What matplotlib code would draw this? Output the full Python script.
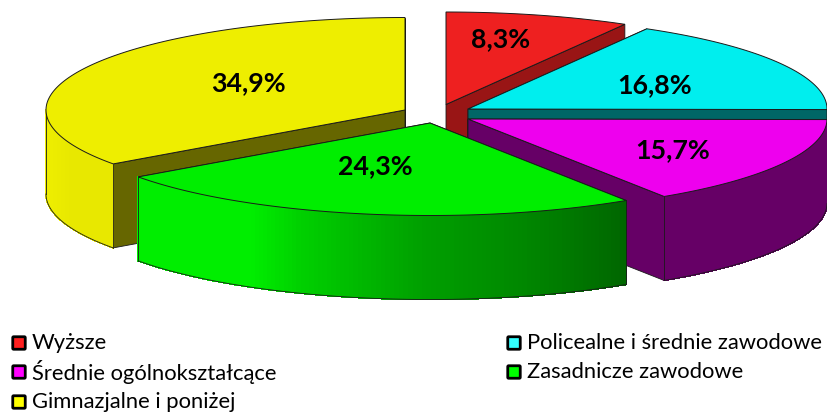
import numpy as np
import matplotlib
matplotlib.use("Agg")
import matplotlib.pyplot as plt
from matplotlib.collections import PolyCollection
from matplotlib.patches import FancyBboxPatch

categories = ["Wyższe", "Policealne i średnie zawodowe", "Średnie ogólnokształcące",
              "Zasadnicze zawodowe", "Gimnazjalne i poniżej"]
shares = [8.3, 16.8, 15.7, 24.3, 34.9]

# look of the fake 3d pie, in pixels of the picture
RX, RY, DEPTH = 359, 92.5, 84
apex = [(446, 105.5), (468, 110), (468, 120), (430, 124), (405, 111)]
top_col = ["#EE2020", "#00EEEE", "#EE00EE", "#00EE00", "#EEEE00"]
wall_col = ["#991515", "#006666", "#660066", "#006600", "#666600"]
key_col = ["#FF2020", "#33FFFF", "#FF00FF", "#00FF00", "#FFFF00"]
label_pos = [(501, 39), (655, 85), (673, 150), (375, 166), (248, 83)]
key_pos = [(12, 337), (507, 337), (12, 366), (507, 366), (12, 396)]
# outer side colour along x
side_x = {2: [0, 827], 3: [138, 250, 300, 420, 520, 626], 4: [46, 70, 112]}
side_c = {2: ["#660066", "#660066"],
          3: ["#00EE00", "#00EE00", "#00D000", "#00A000", "#008800", "#006600"],
          4: ["#EEEE00", "#E8E800", "#E8E800"]}
EDGE = "#1a1a1a"

plt.rcParams["font.family"] = ["Lato", "DejaVu Sans"]
fig = plt.figure(figsize=(8.27, 4.14), dpi=100)
ax = fig.add_axes([0, 0, 1, 1])
ax.set_xlim(0, 827)
ax.set_ylim(414, 0)
ax.axis("off")

ends = np.cumsum(shares) / sum(shares) * 360
starts = np.r_[0, ends[:-1]]


def rim(i, phi):
    cx, cy = apex[i]
    phi = np.radians(phi)
    return cx + RX * np.sin(phi), cy - RY * np.cos(phi)


def hex_rgb(c):
    return matplotlib.colors.to_rgb(c)


def draw_slice(i):
    a, b = starts[i], ends[i]
    cx, cy = apex[i]
    z = 2 * (i + 1) if i != 3 else 20
    # inner walls, from the apex to both rim ends
    for phi in (a, b):
        x, y = rim(i, phi)
        ax.fill([cx, x, x, cx], [cy, y, y + DEPTH, cy + DEPTH], fc=wall_col[i],
                ec=EDGE, lw=0.6, zorder=z)
    # outer side, only the part that faces us
    lo, hi = max(a, 90), min(b, 270)
    if hi > lo and i in side_x:
        phis = np.linspace(lo, hi, 120)
        xs, ys = rim(i, phis)
        quads = []
        cols = []
        stops = np.array([hex_rgb(c) for c in side_c[i]])
        for k in range(len(phis) - 1):
            quads.append([(xs[k], ys[k]), (xs[k + 1], ys[k + 1]),
                          (xs[k + 1], ys[k + 1] + DEPTH), (xs[k], ys[k] + DEPTH)])
            mid = (xs[k] + xs[k + 1]) / 2
            cols.append([np.interp(mid, side_x[i], stops[:, n]) for n in range(3)])
        ax.add_collection(PolyCollection(quads, facecolors=cols, edgecolors=cols,
                                         linewidths=0.5, antialiaseds=False, zorder=z))
        ax.plot(xs, ys + DEPTH, color=EDGE, lw=0.6, zorder=z)
        ax.plot([xs[0], xs[0]], [ys[0], ys[0] + DEPTH], color=EDGE, lw=0.6, zorder=z)
        ax.plot([xs[-1], xs[-1]], [ys[-1], ys[-1] + DEPTH], color=EDGE, lw=0.6, zorder=z)
    # top face
    phis = np.linspace(a, b, 200)
    xs, ys = rim(i, phis)
    ax.fill(np.r_[cx, xs], np.r_[cy, ys], fc=top_col[i], ec=EDGE, lw=0.7,
            zorder=z + 1, joinstyle="miter")


for i in range(len(shares)):
    draw_slice(i)

for share, (x, y) in zip(shares, label_pos):
    ax.text(x, y, f"{share:.1f}%".replace(".", ","), ha="center", va="center",
            fontsize=19.3, fontweight="bold", color="black", zorder=30)

for name, col, (x, y) in zip(categories, key_col, key_pos):
    ax.add_patch(FancyBboxPatch((x + 0.75, y + 0.75), 12.5, 12.5,
                                boxstyle="round,pad=0,rounding_size=1",
                                fc=col, ec="black", lw=2))
    ax.text(x + 20, y + 6.5, name, ha="left", va="center", fontsize=15.8, color="black")

fig.savefig("out.png", dpi=100)
